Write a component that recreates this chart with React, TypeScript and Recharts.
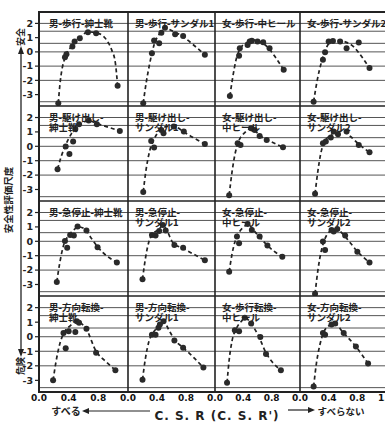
import React from "react";
import { ComposedChart, Line, ReferenceLine, Scatter, XAxis, YAxis } from "recharts";

type Pt = { x: number; y: number };

// axis ticks / labels
const xTicks = [0.2, 0.4, 0.6, 0.8, 1.0];
const xLabels = [0, 0.4, 0.8];
const xLabelsLast = [0, 0.4, 0.8, 1.2];
const yTicks = [2, 1, 0, -1, -2, -3];
const gridY = [2, 1.45, 0.6, 0, -1, -2, -3.5];

const titles = [
  "男-歩行-紳士靴", "男-歩行-サンダル1", "女-歩行-中ヒール", "女-歩行-サンダル2",
  "男-駆け出し-\n紳士靴", "男-駆け出し-\nサンダル1", "女-駆け出し-\n中ヒール", "女-駆け出し-\nサンダル2",
  "男-急停止-紳士靴", "男-急停止-\nサンダル1", "女-急停止-\n中ヒール", "女-急停止-\nサンダル2",
  "男-方向転換-\n紳士靴", "男-方向転換-\nサンダル1", "女-歩行転換-\n中ヒール", "女-方向転換-\nサンダル2",
];

// measured points [C.S.R, score] and the dashed fitted curve, per panel
const walkMenShoe = [[0.26, -3.6], [0.35, -0.37], [0.37, -0.16], [0.45, 0.37], [0.48, 0.72], [0.55, 0.96], [0.66, 1.38], [0.77, 1.31], [1.06, -2.38]];
const walkMenShoeCurve = [[0.26, -3.6], [0.28, -2.4], [0.35, -0.4], [0.45, 0.45], [0.55, 1.0], [0.66, 1.4], [0.8, 1.3], [0.91, 0.84], [0.98, 0.14], [1.03, -0.79], [1.06, -2.38]];
const walkMenSandal = [[0.21, -3.6], [0.33, -0.1], [0.36, 0.8], [0.43, 0.6], [0.46, 1.35], [0.51, 1.7], [0.65, 1.24], [0.76, 1.12], [1.06, -0.2]];
const walkMenSandalCurve = [[0.21, -3.6], [0.25, -2.2], [0.3, -0.8], [0.36, 0.5], [0.44, 1.3], [0.52, 1.65], [0.62, 1.45], [0.75, 1.1], [0.9, 0.5], [1.06, -0.2]];
const walkWomenHeel = [[0.21, -3.1], [0.34, -0.28], [0.35, 0.26], [0.46, 0.49], [0.49, 0.72], [0.52, 0.79], [0.6, 0.72], [0.68, 0.68], [0.77, 0.26], [0.97, -1.26]];
const walkWomenHeelCurve = [[0.21, -3.1], [0.25, -1.8], [0.3, -0.5], [0.36, 0.25], [0.45, 0.65], [0.53, 0.85], [0.63, 0.72], [0.75, 0.3], [0.87, -0.5], [0.97, -1.26]];
const walkWomenSandal = [[0.19, -3.5], [0.32, -0.56], [0.35, -0.02], [0.4, 0.72], [0.46, 0.77], [0.56, 0.72], [0.65, 0.26], [0.82, 0.65], [0.97, -1.14]];
const walkWomenSandalCurve = [[0.19, -3.5], [0.24, -2.0], [0.3, -0.7], [0.36, 0.2], [0.43, 0.7], [0.52, 0.8], [0.62, 0.72], [0.75, 0.35], [0.87, -0.4], [0.97, -1.14]];

const dashMenShoe = [[0.25, -1.59], [0.36, -0.02], [0.41, -0.54], [0.46, 0.33], [0.49, 1.21], [0.54, 1.54], [0.67, 1.8], [0.78, 1.54], [1.09, 1.07]];
const dashMenShoeCurve = [[0.25, -1.59], [0.3, -0.7], [0.36, 0.1], [0.44, 0.9], [0.52, 1.45], [0.6, 1.7], [0.68, 1.75], [0.8, 1.55], [0.95, 1.3], [1.09, 1.07]];
const dashMenSandal = [[0.21, -3.17], [0.32, 0.37], [0.36, -0.09], [0.46, 1.14], [0.49, 0.91], [0.63, 1.38], [0.77, 1.03], [1.06, 0.16]];
const dashMenSandalCurve = [[0.21, -3.17], [0.25, -1.6], [0.3, -0.3], [0.36, 0.5], [0.44, 1.1], [0.55, 1.38], [0.65, 1.35], [0.77, 1.0], [0.9, 0.6], [1.06, 0.16]];
const dashWomenHeel = [[0.2, -3.4], [0.32, 0.21], [0.36, 0.09], [0.51, 1.26], [0.56, 1.14], [0.63, 0.72], [0.73, 0.44], [0.96, -0.07]];
const dashWomenHeelCurve = [[0.2, -3.4], [0.24, -1.8], [0.28, -0.6], [0.33, 0.3], [0.42, 0.95], [0.5, 1.22], [0.58, 1.0], [0.66, 0.65], [0.78, 0.35], [0.96, -0.07]];
const dashWomenSandal = [[0.21, -3.3], [0.32, 0.21], [0.36, 0.33], [0.43, 0.61], [0.47, 1.03], [0.53, 0.84], [0.65, 1.03], [0.82, 0.09], [0.97, -0.42]];
const dashWomenSandalCurve = [[0.21, -3.3], [0.25, -1.7], [0.29, -0.5], [0.34, 0.3], [0.42, 0.75], [0.5, 1.0], [0.6, 1.05], [0.7, 0.7], [0.82, 0.15], [0.97, -0.42]];

const stopMenShoe = [[0.24, -2.82], [0.35, 0.02], [0.38, -0.44], [0.42, 0.44], [0.47, 0.4], [0.52, 1.03], [0.64, 0.75], [0.79, -0.42], [1.05, -1.47]];
const stopMenShoeCurve = [[0.24, -2.82], [0.28, -1.5], [0.33, -0.3], [0.39, 0.35], [0.46, 0.75], [0.53, 1.0], [0.62, 0.85], [0.7, 0.25], [0.8, -0.45], [1.05, -1.47]];
const stopMenSandal = [[0.2, -2.64], [0.33, 0.44], [0.38, 0.4], [0.43, 0.72], [0.48, 1.14], [0.52, 0.75], [0.64, -0.26], [0.76, -0.44], [1.06, -1.31]];
const stopMenSandalCurve = [[0.2, -2.64], [0.24, -1.2], [0.29, 0.0], [0.35, 0.55], [0.42, 0.8], [0.48, 1.1], [0.54, 0.7], [0.62, -0.1], [0.76, -0.5], [1.06, -1.31]];
const stopWomenHeel = [[0.2, -2.12], [0.31, 0.33], [0.34, -0.14], [0.46, 1.21], [0.52, 0.79], [0.63, 0.33], [0.74, -0.3], [0.95, -1.07]];
const stopWomenHeelCurve = [[0.2, -2.12], [0.24, -0.9], [0.29, 0.1], [0.35, 0.7], [0.42, 1.05], [0.47, 1.2], [0.53, 0.85], [0.63, 0.3], [0.74, -0.3], [0.95, -1.07]];
const stopWomenSandal = [[0.21, -3.65], [0.32, -0.02], [0.35, -0.6], [0.44, 0.79], [0.47, 0.68], [0.52, 0.86], [0.63, 0.4], [0.8, -0.72], [0.97, -1.47]];
const stopWomenSandalCurve = [[0.21, -3.65], [0.25, -2.0], [0.3, -0.6], [0.35, 0.2], [0.42, 0.7], [0.5, 0.85], [0.6, 0.5], [0.7, -0.1], [0.8, -0.7], [0.97, -1.47]];

const turnMenShoe = [[0.19, -3.0], [0.33, 0.26], [0.36, -0.79], [0.4, 0.37], [0.49, 0.33], [0.51, 1.07], [0.54, 0.96], [0.64, 0.54], [0.77, -1.1], [1.03, -2.3]];
const turnMenShoeCurve = [[0.19, -3.0], [0.23, -1.7], [0.28, -0.5], [0.34, 0.3], [0.42, 0.75], [0.5, 1.05], [0.56, 0.95], [0.64, 0.5], [0.77, -1.0], [0.9, -1.7], [1.03, -2.3]];
const turnMenSandal = [[0.2, -2.96], [0.33, 0.14], [0.38, 0.14], [0.42, 0.61], [0.44, 0.84], [0.49, 1.07], [0.64, -0.26], [0.76, -0.75], [1.04, -2.12]];
const turnMenSandalCurve = [[0.2, -2.96], [0.24, -1.5], [0.29, -0.3], [0.35, 0.3], [0.42, 0.7], [0.49, 1.07], [0.56, 0.5], [0.64, -0.2], [0.76, -0.75], [0.9, -1.4], [1.04, -2.12]];
const turnWomenHeel = [[0.17, -3.17], [0.28, 0.44], [0.34, 0.37], [0.42, 1.31], [0.51, 0.91], [0.64, -0.02], [0.72, -1.19], [0.93, -2.31]];
const turnWomenHeelCurve = [[0.17, -3.17], [0.2, -1.6], [0.24, -0.3], [0.3, 0.55], [0.37, 1.05], [0.43, 1.3], [0.51, 0.9], [0.6, 0.2], [0.72, -1.1], [0.93, -2.31]];
const turnWomenSandal = [[0.19, -3.43], [0.32, 0.26], [0.35, 0.14], [0.44, 0.84], [0.49, 0.91], [0.61, 0.26], [0.78, -0.68], [0.95, -1.84]];
const turnWomenSandalCurve = [[0.19, -3.43], [0.23, -1.8], [0.28, -0.5], [0.33, 0.3], [0.4, 0.75], [0.48, 0.92], [0.6, 0.3], [0.78, -0.68], [0.95, -1.84]];

const pointSets = [
  walkMenShoe, walkMenSandal, walkWomenHeel, walkWomenSandal,
  dashMenShoe, dashMenSandal, dashWomenHeel, dashWomenSandal,
  stopMenShoe, stopMenSandal, stopWomenHeel, stopWomenSandal,
  turnMenShoe, turnMenSandal, turnWomenHeel, turnWomenSandal,
];
const curveSets = [
  walkMenShoeCurve, walkMenSandalCurve, walkWomenHeelCurve, walkWomenSandalCurve,
  dashMenShoeCurve, dashMenSandalCurve, dashWomenHeelCurve, dashWomenSandalCurve,
  stopMenShoeCurve, stopMenSandalCurve, stopWomenHeelCurve, stopWomenSandalCurve,
  turnMenShoeCurve, turnMenSandalCurve, turnWomenHeelCurve, turnWomenSandalCurve,
];

// grid geometry (page px)
const colLeft = [39, 128, 215, 300];
const colWidth = [89, 87, 85, 86];
const rowTop = [12, 106, 201, 296];
const rowHeight = [94, 95, 95, 96];
const PAD = 10;

const INK = "#222";
const JP = "'Noto Sans CJK JP', 'Noto Sans', sans-serif";

const toPts = (a: number[][]): Pt[] => a.map(([x, y]) => ({ x, y }));

const Dot = (p: any) => <circle cx={p.cx} cy={p.cy} r={3} fill="#2a2a2a" />;

function Panel({ r, c }: { r: number; c: number }) {
  const i = r * 4 + c;
  const first = c === 0;
  const last = r === 3;
  const yw = first ? 24 : 0;
  const lh = last ? 16 : 0;
  const w = colWidth[c] + yw + 2 * PAD;
  const h = rowHeight[r] + lh;
  return (
    <div style={{ position: "absolute", left: colLeft[c] - yw - PAD, top: rowTop[r], width: w, height: h }}>
      <ComposedChart width={w} height={h} margin={{ top: 0, right: PAD, bottom: 0, left: PAD }}>
        <XAxis
          xAxisId="x"
          dataKey="x"
          type="number"
          domain={[0, 1.2]}
          ticks={xTicks}
          allowDataOverflow
          mirror
          height={0}
          tick={false}
          tickSize={4}
          axisLine={false}
          tickLine={{ stroke: INK, strokeWidth: 1.2 }}
        />
        {last && (
          <XAxis
            xAxisId="lbl"
            dataKey="x"
            type="number"
            domain={[0, 1.2]}
            ticks={c === 3 ? xLabelsLast : xLabels}
            interval={0}
            allowDataOverflow
            height={lh}
            tickSize={0}
            tickMargin={3}
            axisLine={false}
            tickLine={false}
            tickFormatter={(v: number) => v.toFixed(1)}
            tick={{ fontSize: 9, fill: "#111", fontWeight: 600, fontFamily: "DejaVu Sans" }}
          />
        )}
        {first ? (
          <YAxis
            yAxisId="y"
            dataKey="y"
            type="number"
            domain={[-3.8, 2.8]}
            ticks={yTicks}
            interval={0}
            allowDataOverflow
            width={yw}
            tickSize={4}
            tickMargin={2}
            axisLine={false}
            tickLine={{ stroke: INK, strokeWidth: 1.2 }}
            tick={{ fontSize: 9.5, fill: INK, fontWeight: 600, fontFamily: "DejaVu Sans" }}
          />
        ) : (
          <YAxis
            yAxisId="y"
            dataKey="y"
            type="number"
            domain={[-3.8, 2.8]}
            ticks={yTicks}
            interval={0}
            allowDataOverflow
            mirror
            width={0}
            tick={false}
            tickSize={4}
            axisLine={false}
            tickLine={{ stroke: INK, strokeWidth: 1.2 }}
          />
        )}
        {gridY.map((v) => (
          <ReferenceLine key={v} xAxisId="x" yAxisId="y" y={v} stroke="#555" strokeWidth={1} />
        ))}
        <Line
          xAxisId="x"
          yAxisId="y"
          data={toPts(curveSets[i])}
          dataKey="y"
          type="monotone"
          stroke={INK}
          strokeWidth={1.7}
          strokeDasharray="4 3"
          dot={false}
          activeDot={false}
          isAnimationActive={false}
        />
        <Scatter
          xAxisId="x"
          yAxisId="y"
          data={toPts(pointSets[i])}
          dataKey="y"
          shape={Dot}
          isAnimationActive={false}
        />
      </ComposedChart>
      <div
        style={{
          position: "absolute",
          left: PAD + yw + (first ? 10 : 7),
          top: 6,
          fontFamily: JP,
          fontSize: 9.5,
          lineHeight: "10px",
          fontWeight: 700,
          color: INK,
          whiteSpace: "pre",
          pointerEvents: "none",
        }}
      >
        {titles[i]}
      </div>
    </div>
  );
}

const App: React.FC = () => {
  const right = colLeft[3] + colWidth[3];
  const bottom = rowTop[3] + rowHeight[3];
  const frameTop = rowTop[0];
  const frameLeft = colLeft[0];
  return (
    <div style={{ position: "absolute", left: 0, top: 0, width: 385, height: 422, background: "#fff", overflow: "hidden" }}>
      {[0, 1, 2, 3].map((r) => [0, 1, 2, 3].map((c) => <Panel key={`${r}-${c}`} r={r} c={c} />))}
      <svg width={385} height={422} style={{ position: "absolute", left: 0, top: 0, pointerEvents: "none" }}>
        {/* frame */}
        <rect x={frameLeft} y={frameTop} width={right - frameLeft} height={bottom - frameTop} fill="none" stroke={INK} strokeWidth={2} />
        {colLeft.slice(1).map((x) => (
          <line key={`v${x}`} x1={x} x2={x} y1={frameTop} y2={bottom} stroke={INK} strokeWidth={1.6} />
        ))}
        {rowTop.slice(1).map((y) => (
          <line key={`h${y}`} x1={frameLeft} x2={right} y1={y} y2={y} stroke={INK} strokeWidth={1.6} />
        ))}
        {/* left axis arrow and labels */}
        <line x1={21} x2={21} y1={52} y2={351} stroke={INK} strokeWidth={1.3} />
        <polygon points="21,46 18,54 24,54" fill={INK} />
        <polygon points="21,357 18,349 24,349" fill={INK} />
        <text transform="translate(24,37) rotate(-90)" textAnchor="middle" fontFamily={JP} fontSize={9} fontWeight={700} fill={INK}>安全</text>
        <text transform="translate(12,200) rotate(-90)" textAnchor="middle" fontFamily={JP} fontSize={9.5} fontWeight={700} fill={INK}>安全性評価尺度</text>
        <text transform="translate(24,366) rotate(-90)" textAnchor="middle" fontFamily={JP} fontSize={9} fontWeight={700} fill={INK}>危険</text>
        {/* bottom labels */}
        <text x={66} y={415} textAnchor="middle" fontFamily={JP} fontSize={10} fontWeight={700} fill={INK}>すべる</text>
        <line x1={87} x2={150} y1={411} y2={411} stroke={INK} strokeWidth={1.2} />
        <polygon points="82,411 89,408 89,414" fill={INK} />
        <text x={217} y={420} textAnchor="middle" fontFamily="'DejaVu Sans', sans-serif" fontSize={12} fontWeight={600} fill={INK} letterSpacing={1}>C. S. R (C. S. R')</text>
        <line x1={288} x2={310} y1={410} y2={410} stroke={INK} strokeWidth={1.2} />
        <polygon points="315,410 308,407 308,413" fill={INK} />
        <text x={341} y={415} textAnchor="middle" fontFamily={JP} fontSize={9.5} fontWeight={700} fill={INK}>すべらない</text>
      </svg>
    </div>
  );
};

export default App;
